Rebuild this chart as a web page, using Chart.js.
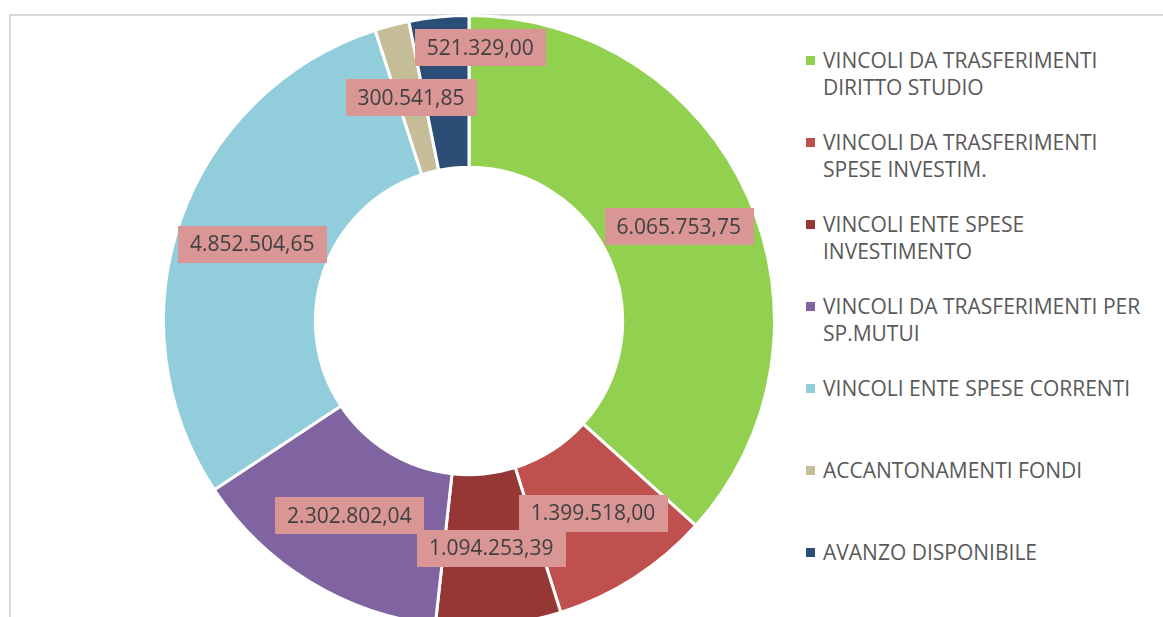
<!DOCTYPE html>
<html>
<head>
<meta charset="utf-8">
<script src="https://cdn.jsdelivr.net/npm/chart.js@4/dist/chart.umd.min.js"></script>
<style>
  html, body { margin:0; padding:0; width:1163px; height:617px; overflow:hidden; background:#fff; }
  #frame { position:absolute; left:9px; top:14px; width:1400px; height:900px;
           border-left:2px solid #d9d9d9; border-top:2px solid #d9d9d9; box-sizing:border-box; }
  #c { position:absolute; left:162px; top:14px; }
  #legend { position:absolute; left:0; top:0; font-family:"Open Sans", sans-serif; font-size:21px;
            color:#595959; }
  .item { position:absolute; left:823px; width:326px; line-height:27px; }
  .mk { position:absolute; left:-17px; top:9px; width:9px; height:9px; }
</style>
</head>
<body>
<div id="frame"></div>
<canvas id="c" width="614" height="614"></canvas>
<div id="legend"></div>
<script>
const categories = [
  "VINCOLI DA TRASFERIMENTI DIRITTO STUDIO",
  "VINCOLI DA TRASFERIMENTI SPESE INVESTIM.",
  "VINCOLI ENTE SPESE INVESTIMENTO",
  "VINCOLI DA TRASFERIMENTI PER SP.MUTUI",
  "VINCOLI ENTE SPESE CORRENTI",
  "ACCANTONAMENTI FONDI",
  "AVANZO DISPONIBILE"
];
const values = [6065753.75, 1399518.00, 1094253.39, 2302802.04, 4852504.65, 300541.85, 521329.00];
const colors = ["#92D050", "#C0504D", "#953735", "#8064A2", "#92CDDC", "#C4BD97", "#2C4D75"];

function fmtIt(v) {
  const parts = v.toFixed(2).split(".");
  const intPart = parts[0].replace(/\B(?=(\d{3})+(?!\d))/g, ".");
  return intPart + "," + parts[1];
}

// label nudges (pixel offsets from the arc's centre point), last label moved like the original
const labelNudge = [[0,0],[0,0],[0,0],[0,0],[0,0],[0,0],[34,-44]];

const labelPlugin = {
  id: 'boxLabels',
  afterDatasetsDraw(chart) {
    const ctx = chart.ctx;
    const meta = chart.getDatasetMeta(0);
    ctx.save();
    ctx.font = '21px "Open Sans", sans-serif';
    ctx.textAlign = 'center';
    ctx.textBaseline = 'middle';
    meta.data.forEach((el, i) => {
      const p = el.tooltipPosition();
      const x = p.x + labelNudge[i][0];
      const y = p.y + labelNudge[i][1] - 1;
      const txt = fmtIt(chart.data.datasets[0].data[i]);
      const w = ctx.measureText(txt).width + 24;
      const h = 37;
      ctx.fillStyle = '#D99694';
      ctx.fillRect(Math.round(x - w/2), Math.round(y - h/2), Math.round(w), h);
      ctx.fillStyle = '#404040';
      ctx.fillText(txt, x, y + 1);
    });
    ctx.restore();
  }
};

new Chart(document.getElementById('c'), {
  type: 'doughnut',
  data: {
    labels: categories,
    datasets: [{
      data: values,
      backgroundColor: colors,
      borderColor: '#ffffff',
      borderWidth: 3,
      hoverOffset: 0
    }]
  },
  options: {
    responsive: false,
    animation: false,
    cutout: '50.3%',
    layout: { padding: 0 },
    plugins: {
      legend: { display: false },
      tooltip: { enabled: false }
    }
  },
  plugins: [labelPlugin]
});

// HTML legend built from the arrays
const leg = document.getElementById('legend');
categories.forEach((name, i) => {
  const d = document.createElement('div');
  d.className = 'item';
  d.style.top = (61 + 82 * i - 14) + 'px';
  const m = document.createElement('span');
  m.className = 'mk';
  m.style.background = colors[i];
  d.appendChild(m);
  d.appendChild(document.createTextNode(name));
  leg.appendChild(d);
});
</script>
</body>
</html>
